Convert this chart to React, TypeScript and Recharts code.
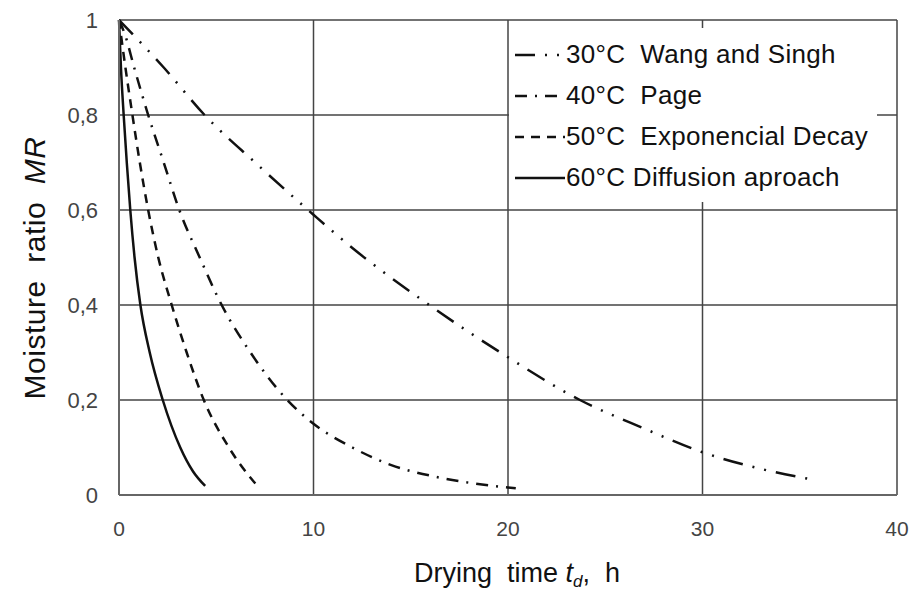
import React from "react";
import {
  LineChart,
  Line,
  XAxis,
  YAxis,
  CartesianGrid,
  Legend,
  Label,
} from "recharts";

const FONT = '"Liberation Sans", Arial, sans-serif';

// drying time (h) and moisture ratio
const wangTime = [0, 2.3, 4.4, 7, 10, 12, 15.6, 20, 23.7, 27, 30, 33, 35.6];
const wangMR = [1, 0.9, 0.8, 0.7, 0.59, 0.52, 0.41, 0.29, 0.2, 0.14, 0.09, 0.055, 0.033];

const pageTime = [0, 0.3, 0.78, 1.5, 2.3, 3.1, 4.15, 5.28, 6.76, 8.65, 10, 12, 14, 16.2, 18.3, 20.4];
const pageMR = [1, 0.97, 0.9, 0.8, 0.7, 0.6, 0.5, 0.4, 0.3, 0.2, 0.15, 0.1, 0.063, 0.039, 0.024, 0.014];

const expTime = [0, 0.33, 0.69, 1.07, 1.5, 2.02, 2.71, 3.48, 4.36, 5.65, 7.07];
const expMR = [1, 0.9, 0.8, 0.7, 0.6, 0.5, 0.4, 0.3, 0.2, 0.1, 0.021];

const diffTime = [0, 0.1, 0.24, 0.4, 0.58, 0.8, 1.1, 1.58, 2.25, 3.15, 3.8, 4.43];
const diffMR = [1, 0.9, 0.8, 0.7, 0.6, 0.5, 0.4, 0.3, 0.2, 0.1, 0.05, 0.019];

const xTicks = [0, 10, 20, 30, 40];
const yTicks = [0, 0.2, 0.4, 0.6, 0.8, 1];

const toRows = (ts: number[], ys: number[]) => ts.map((t, i) => ({ t, mr: ys[i] }));

const series = [
  { name: "30°C  Wang and Singh", data: toRows(wangTime, wangMR), dash: "20 10 2 10 2 10" },
  { name: "40°C  Page", data: toRows(pageTime, pageMR), dash: "12 8 2 8" },
  { name: "50°C  Exponencial Decay", data: toRows(expTime, expMR), dash: "9 7" },
  { name: "60°C Diffusion aproach", data: toRows(diffTime, diffMR), dash: undefined },
];

function LegendBox() {
  return (
    <div style={{ background: "#fff", width: "100%", height: "100%", paddingTop: 6 }}>
      {series.map((s) => (
        <div key={s.name} style={{ display: "flex", alignItems: "center", height: 41 }}>
          <svg width={52} height={10} style={{ marginLeft: 6, flex: "none" }}>
            <line
              x1={0}
              x2={50}
              y1={5}
              y2={5}
              stroke="#111"
              strokeWidth={2.5}
              strokeDasharray={s.dash}
            />
          </svg>
          <span
            style={{
              fontFamily: FONT,
              fontSize: 26,
              letterSpacing: 0.3,
              color: "#111",
              whiteSpace: "pre",
              marginLeft: -1,
            }}
          >
            {s.name}
          </span>
        </div>
      ))}
    </div>
  );
}

export default function App() {
  return (
    <div style={{ position: "absolute", left: 0, top: 0 }}>
      <LineChart width={911} height={594} margin={{ top: 20, right: 14, bottom: 39, left: 0 }}>
        <CartesianGrid stroke="#444" strokeWidth={1.5} />
        <XAxis
          type="number"
          dataKey="t"
          domain={[0, 40]}
          ticks={xTicks}
          height={60}
          tickSize={0}
          tickMargin={26}
          axisLine={{ stroke: "#666", strokeWidth: 2 }}
          tick={{ fontFamily: FONT, fontSize: 21, fill: "#444" }}
        >
          <Label
            content={() => (
              <text
                x={517}
                y={582}
                textAnchor="middle"
                fontFamily={FONT}
                fontSize={27}
                fill="#111"
                style={{ whiteSpace: "pre" }}
              >
                {"Drying  time "}
                <tspan fontStyle="italic">t</tspan>
                <tspan fontStyle="italic" fontSize={17} dy={5}>d</tspan>
                <tspan dy={-5}>{",  h"}</tspan>
              </text>
            )}
          />
        </XAxis>
        <YAxis
          type="number"
          domain={[0, 1]}
          ticks={yTicks}
          width={119}
          tickSize={0}
          tickMargin={21}
          axisLine={{ stroke: "#666", strokeWidth: 2 }}
          tickFormatter={(v: number) => String(v).replace(".", ",")}
          tick={{ fontFamily: FONT, fontSize: 22, fill: "#444" }}
        >
          <Label
            content={() => (
              <text
                x={0}
                y={0}
                transform="translate(45 268) rotate(-90)"
                textAnchor="middle"
                fontFamily={FONT}
                fontSize={30}
                letterSpacing={0.5}
                fill="#111"
                style={{ whiteSpace: "pre" }}
              >
                {"Moisture  ratio  "}
                <tspan fontStyle="italic">MR</tspan>
              </text>
            )}
          />
        </YAxis>
        <Legend
          layout="vertical"
          align="center"
          verticalAlign="middle"
          content={() => <LegendBox />}
          wrapperStyle={{ left: 509, top: 28, width: 368, height: 168 }}
        />
        {series.map((s) => (
          <Line
            key={s.name}
            data={s.data}
            dataKey="mr"
            name={s.name}
            type="monotone"
            stroke="#111"
            strokeWidth={2.5}
            strokeDasharray={s.dash}
            dot={false}
            activeDot={false}
            isAnimationActive={false}
          />
        ))}
      </LineChart>
    </div>
  );
}
